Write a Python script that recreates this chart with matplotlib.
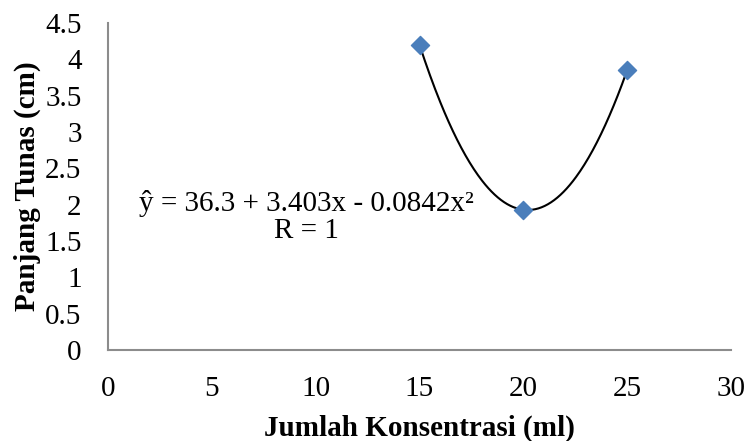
import matplotlib
matplotlib.use("Agg")
import matplotlib.pyplot as plt
import numpy as np

# data
konsentrasi = [15, 20, 25]
panjang_tunas = [4.2, 1.93, 3.85]
x_ticks = [0, 5, 10, 15, 20, 25, 30]
y_ticks = [0, 0.5, 1, 1.5, 2, 2.5, 3, 3.5, 4, 4.5]
y_tick_labels = ["0", "0.5", "1", "1.5", "2", "2.5", "3", "3.5", "4", "4.5"]

plt.rcParams['font.family'] = ['Liberation Serif', 'DejaVu Serif']

fig = plt.figure(figsize=(7.49, 4.41), dpi=100)
ax = fig.add_axes([108 / 749, 1 - 350 / 441, (731 - 108) / 749, (350 - 23) / 441])

# polynomial (order 2) trendline through the points
coef = np.polyfit(konsentrasi, panjang_tunas, 2)
xs = np.linspace(min(konsentrasi), max(konsentrasi), 200)
ax.plot(xs, np.polyval(coef, xs), color="black", linewidth=1.5, zorder=2)

ax.scatter(konsentrasi, panjang_tunas, marker="D", s=85, color="#4a7ebb",
           edgecolors="#4a7ebb", zorder=3)

ax.set_xlim(0, 30)
ax.set_ylim(0, 4.5)
ax.set_xticks(x_ticks)
ax.set_xticklabels([str(t) for t in x_ticks])
ax.set_yticks(y_ticks)
ax.set_yticklabels(y_tick_labels)
ax.tick_params(length=0, labelsize=21)
ax.tick_params(axis="x", pad=19)
ax.tick_params(axis="y", pad=19)

for side in ["top", "right"]:
    ax.spines[side].set_visible(False)
for side in ["left", "bottom"]:
    ax.spines[side].set_color("#8c8c8c")
    ax.spines[side].set_linewidth(1.5)

ax.set_xlabel("Jumlah Konsentrasi (ml)", fontsize=21, fontweight="bold", labelpad=9)
ax.set_ylabel("Panjang Tunas (cm)", fontsize=21, fontweight="bold", labelpad=3)

ax.text(9.55, 2.02, "ŷ = 36.3 + 3.403x - 0.0842x²", fontsize=21,
        ha="center", va="center")
ax.text(9.55, 1.64, "R = 1", fontsize=21, ha="center", va="center")

fig.savefig("out.png", dpi=100)
